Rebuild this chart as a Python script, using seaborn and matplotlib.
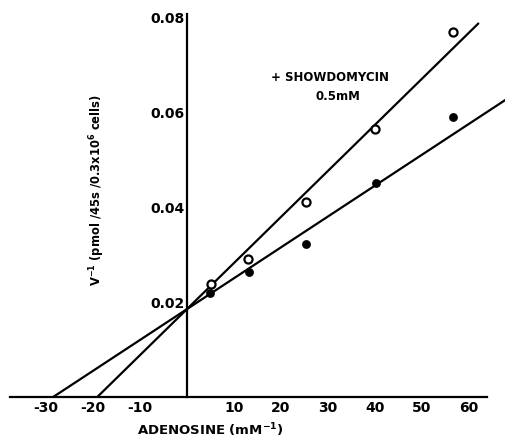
import numpy as np
import pandas as pd
import seaborn as sns
import matplotlib.pyplot as plt

sns.set_style('white')
plt.rcParams['font.family'] = ['DejaVu Sans']
plt.rcParams['font.weight'] = 'bold'

# 1/[adenosine] (mM^-1) and 1/v values
x_ctrl = [4.9, 13.2, 25.3, 40.4, 56.8]
y_ctrl = [0.0219, 0.0263, 0.0322, 0.045, 0.059]
x_show = [5.1, 13.0, 25.3, 40.0, 56.6]
y_show = [0.0238, 0.029, 0.041, 0.0564, 0.0768]

# fitted lines: x-intercept (-1/Km) and y-intercept (1/Vmax)
xint_ctrl, yint_ctrl = -28.5, 0.0185
xint_show, yint_show = -19.1, 0.0185
xend_ctrl, xend_show = 68, 62.1

xticks = [-30, -20, -10, 10, 20, 30, 40, 50, 60]
yticks = [0.02, 0.04, 0.06, 0.08]

pts = pd.DataFrame({'x': x_ctrl + x_show, 'y': y_ctrl + y_show,
                    'grp': ['ctrl'] * 5 + ['show'] * 5})
lines = pd.DataFrame({
    'x': [xint_ctrl, xend_ctrl, xint_show, xend_show],
    'grp': ['ctrl', 'ctrl', 'show', 'show']})
lines['y'] = np.where(lines['grp'] == 'ctrl',
                      yint_ctrl * (1 - lines['x'] / xint_ctrl),
                      yint_show * (1 - lines['x'] / xint_show))

fig = plt.figure(figsize=(5.06, 4.41), dpi=100)
ax = fig.add_axes([0.0198, 0.0998, 0.9802, 0.9002])

sns.lineplot(data=lines, x='x', y='y', units='grp', estimator=None,
             color='black', lw=1.6, ax=ax, clip_on=False)
sns.scatterplot(data=pts[pts.grp == 'ctrl'], x='x', y='y', color='black',
                s=34, edgecolor='black', ax=ax, zorder=3)
sns.scatterplot(data=pts[pts.grp == 'show'], x='x', y='y', facecolor='white',
                s=34, edgecolor='black', linewidth=1.6, ax=ax, zorder=3)

ax.set_xlim(-37.7, 68)
ax.set_ylim(0, 0.0836)
ax.spines['top'].set_visible(False)
ax.spines['right'].set_visible(False)
ax.spines['left'].set_position(('data', 0))
ax.spines['left'].set_bounds(0, 0.0806)
ax.spines['bottom'].set_bounds(-37.7, 64)
for s in ['left', 'bottom']:
    ax.spines[s].set_linewidth(1.6)
    ax.spines[s].set_color('black')

ax.set_xticks(xticks)
ax.set_xticklabels([str(t) for t in xticks])
ax.set_yticks(yticks)
ax.set_yticklabels(['%.2f' % t for t in yticks])
ax.tick_params(axis='both', direction='in', length=4, width=1.4,
               labelsize=10, colors='black')
ax.tick_params(axis='x', pad=3)
ax.tick_params(axis='y', pad=2)

ax.set_xlabel('')
ax.set_ylabel('')
fig.text(0.415, 0.004, 'ADENOSINE (mM$^{-1}$)', ha='center', va='bottom',
         fontsize=9.5, fontweight='bold', color='black')
fig.text(0.193, 0.57, 'V$^{-1}$ (pmol /45s /0.3x10$^6$ cells)', rotation=90,
         ha='center', va='center', fontsize=8.3, fontweight='bold',
         color='black')
ax.text(30.5, 0.0672, '+ SHOWDOMYCIN', ha='center', va='center',
        fontsize=8.5, fontweight='bold', color='black')
ax.text(32.2, 0.0633, '0.5mM', ha='center', va='center',
        fontsize=8.5, fontweight='bold', color='black')

fig.savefig('out.png', dpi=100)
